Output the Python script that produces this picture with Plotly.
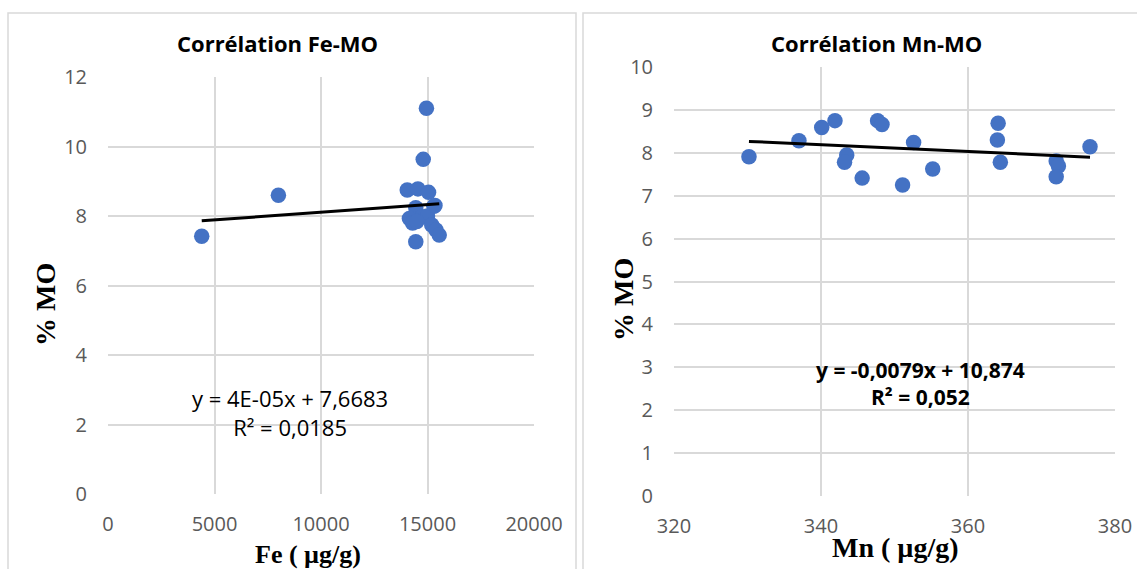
import plotly.graph_objects as go

# ---- data: Fe vs %MO ----
fe_values = [4400, 8000, 14950, 14800, 14050, 14550, 15050, 15300, 14450,
             14150, 14300, 14750, 15000, 14500, 15200, 15400, 15550, 14450, 15350]
mo_fe = [7.42, 8.60, 11.10, 9.63, 8.75, 8.78, 8.68, 8.28, 8.24,
         7.93, 7.80, 7.98, 8.00, 7.84, 7.74, 7.60, 7.45, 7.26, 8.30]
fe_slope = 4.4e-05
fe_intercept = 7.6683
fe_eq_text = "y = 4E-05x + 7,6683<br>R² = 0,0185"

# ---- data: Mn vs %MO ----
mn_values = [330.2, 337.0, 340.1, 341.9, 343.5, 343.2, 345.6, 347.7, 348.3, 351.1,
             352.6, 355.2, 364.1, 364.0, 364.4, 372.0, 372.3, 372.0, 376.6]
mo_mn = [7.91, 8.28, 8.59, 8.75, 7.95, 7.78, 7.41, 8.75, 8.66, 7.25,
         8.24, 7.62, 8.69, 8.30, 7.78, 7.81, 7.69, 7.44, 8.14]
mn_slope = -0.0079
mn_intercept = 10.874
mn_eq_text = "<b>y = -0,0079x + 10,874<br>R² = 0,052</b>"

fe_ticks = [0, 5000, 10000, 15000, 20000]
fe_mo_ticks = [0, 2, 4, 6, 8, 10, 12]
mn_ticks = [320, 340, 360, 380]
mn_mo_ticks = list(range(0, 11))

W, H = 1137, 569
BLUE = "#4472C4"
GRID = "#D9D9D9"
TICK = "#595959"

def px_x(p):
    return p / W

def px_y(p):
    return 1 - p / H

fig = go.Figure()

fig.add_trace(go.Scatter(x=fe_values, y=mo_fe, mode="markers",
                         marker=dict(color=BLUE, size=15.5), xaxis="x", yaxis="y",
                         showlegend=False))
fe_x_line = [min(fe_values), max(fe_values)]
fig.add_trace(go.Scatter(x=fe_x_line, y=[fe_slope * v + fe_intercept for v in fe_x_line],
                         mode="lines", line=dict(color="black", width=3),
                         xaxis="x", yaxis="y", showlegend=False))

fig.add_trace(go.Scatter(x=mn_values, y=mo_mn, mode="markers",
                         marker=dict(color=BLUE, size=15.5), xaxis="x2", yaxis="y2",
                         showlegend=False))
mn_x_line = [min(mn_values), max(mn_values)]
fig.add_trace(go.Scatter(x=mn_x_line, y=[mn_slope * v + mn_intercept for v in mn_x_line],
                         mode="lines", line=dict(color="black", width=3),
                         xaxis="x2", yaxis="y2", showlegend=False))

tickfont = dict(family="Open Sans", size=20, color=TICK)
axcommon = dict(showgrid=True, gridcolor=GRID, gridwidth=1.5, zeroline=False,
                showline=False, ticks="", tickfont=tickfont, fixedrange=True,
                automargin=False)

fig.update_layout(
    width=W, height=H,
    margin=dict(l=0, r=0, t=0, b=0),
    paper_bgcolor="white", plot_bgcolor="white",
    xaxis=dict(domain=[px_x(108), px_x(534)], range=[0, 20000], tickvals=fe_ticks,
               ticktext=[str(v) for v in fe_ticks],
               anchor="y", ticklabelstandoff=16, **axcommon),
    yaxis=dict(domain=[px_y(494), px_y(77)], range=[0, 12], tickvals=fe_mo_ticks,
               ticktext=[str(v) for v in fe_mo_ticks],
               anchor="x", ticklabelstandoff=20, **axcommon),
    xaxis2=dict(domain=[px_x(674), px_x(1115)], range=[320, 380], tickvals=mn_ticks,
                ticktext=[str(v) for v in mn_ticks],
                anchor="y2", ticklabelstandoff=16, **axcommon),
    yaxis2=dict(domain=[px_y(496), px_y(67)], range=[0, 10], tickvals=mn_mo_ticks,
                ticktext=[str(v) for v in mn_mo_ticks],
                anchor="x2", ticklabelstandoff=20, **axcommon),
    shapes=[
        dict(type="rect", xref="paper", yref="paper", x0=px_x(8), x1=px_x(576),
             y0=px_y(600), y1=px_y(13), line=dict(color=GRID, width=1.5)),
        dict(type="rect", xref="paper", yref="paper", x0=px_x(583), x1=px_x(1160),
             y0=px_y(600), y1=px_y(13), line=dict(color=GRID, width=1.5)),
    ],
)

titlefont = dict(family="Open Sans", size=22, color="black")
axtitlefont = dict(family="Liberation Serif", size=28, color="black")
eqfont_l = dict(family="Open Sans", size=22, color="black")
eqfont_r = dict(family="Open Sans", size=21, color="black")

ann = [
    dict(text="<b>Corrélation Fe-MO</b>", x=px_x(277), y=px_y(43), font=titlefont),
    dict(text="<b>Corrélation Mn-MO</b>", x=px_x(876), y=px_y(43), font=titlefont),
    dict(text="<b>% MO</b>", x=px_x(45), y=px_y(305), textangle=-90, font=axtitlefont),
    dict(text="<b>% MO</b>", x=px_x(623), y=px_y(300), textangle=-90, font=axtitlefont),
    dict(text="<b>Fe ( µg/g)</b>", x=px_x(308), y=px_y(554), font=dict(family="Liberation Serif", size=26, color="black")),
    dict(text="<b>Mn ( µg/g)</b>", x=px_x(895), y=px_y(547), font=axtitlefont),
    dict(text=fe_eq_text, x=px_x(290), y=px_y(412), font=eqfont_l),
    dict(text=mn_eq_text, x=px_x(920), y=px_y(383), font=eqfont_r),
]
for a in ann:
    a.update(xref="paper", yref="paper", showarrow=False, xanchor="center", yanchor="middle")
fig.update_layout(annotations=ann)

fig.write_html("out.html")
